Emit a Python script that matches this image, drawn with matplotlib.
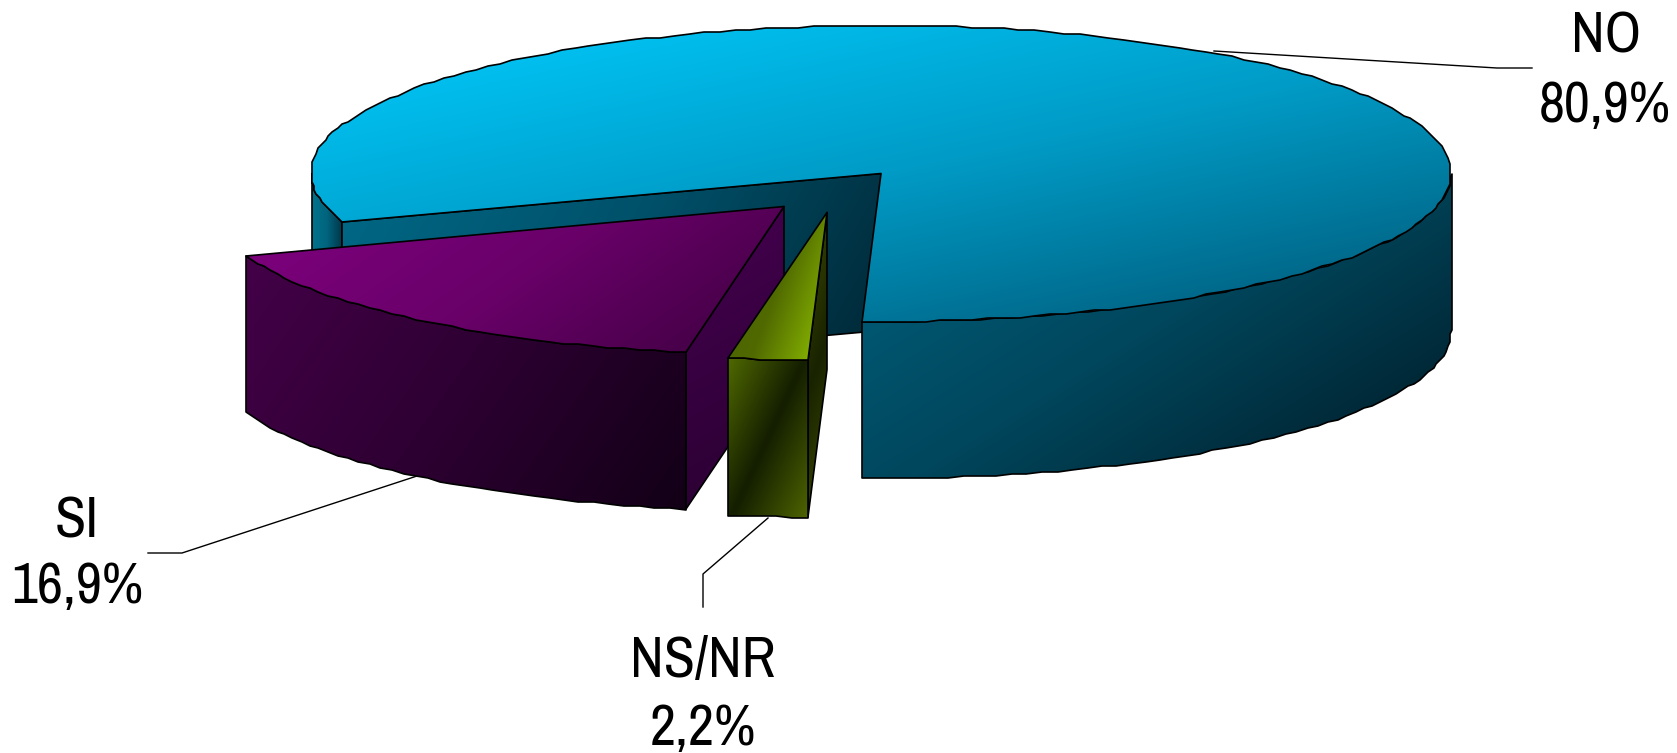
import numpy as np
import matplotlib
matplotlib.use("Agg")
import matplotlib.pyplot as plt
from matplotlib.patches import Polygon

categories = ["NS/NR", "SI", "NO"]
values = [2.2, 16.9, 80.9]

START = 92.0
CX, CY, A, B, DEPTH = 881.0, 173.5, 570.0, 148.0, 157.0
OFFSETS = {"NO": (0, 0), "SI": (-97, 33), "NS/NR": (-54, 39)}

plt.rcParams['font.family'] = ['Archivo Narrow', 'Barlow Condensed', 'Liberation Sans', 'DejaVu Sans']
fig = plt.figure(figsize=(16.77, 7.53), dpi=100)
ax = fig.add_axes([0, 0, 1, 1])
ax.set_xlim(0, 1677); ax.set_ylim(753, 0); ax.axis("off")

z = [10]
def rim(t0, t1, dx, dy, dz=0.0):
    ts = np.radians(np.arange(t0, t1, 1.6).tolist() + [t1])
    x = CX + dx + A * np.cos(ts)
    y = CY + dy + B * np.sin(ts) + dz
    y = np.round(y / 2.0) * 2.0
    x = np.round(x / 2.0) * 2.0
    return np.column_stack([x, y])

def face(points, stops, angle):
    points = np.asarray(points)
    z[0] += 1
    x0, y0 = points.min(0); x1, y1 = points.max(0)
    n = 300
    xx, yy = np.meshgrid(np.linspace(0, 1, n), np.linspace(0, 1, n))
    c, s = np.cos(np.radians(angle)), np.sin(np.radians(angle))
    w, h = max(x1 - x0, 1), max(y1 - y0, 1)
    d = xx * w * c + yy * h * s
    d = (d - d.min()) / (d.max() - d.min())
    pos = np.linspace(0, 1, len(stops))
    img = np.stack([np.interp(d, pos, [q[i] / 255 for q in stops]) for i in range(3)], -1)
    ax.add_patch(Polygon(points, closed=True, fc="none", ec="black", lw=1.2, joinstyle="round", zorder=z[0] + 0.5))
    im = ax.imshow(img, extent=(x0, x1, y1, y0), aspect="auto", zorder=z[0], interpolation="bilinear")
    im.set_clip_path(Polygon(points, closed=True, transform=ax.transData))
    ax.set_xlim(0, 1677); ax.set_ylim(753, 0)

def side(t0, t1, dx, dy):
    return np.vstack([rim(t0, t1, dx, dy), rim(t0, t1, dx, dy, DEPTH)[::-1]])

def wall(t, dx, dy):
    p = rim(t, t, dx, dy)[0]
    a = (CX + dx, CY + dy)
    return [a, tuple(p), (p[0], p[1] + DEPTH), (a[0], a[1] + DEPTH)]

def top_face(t0, t1, dx, dy):
    return np.vstack([[(CX + dx, CY + dy)], rim(t0, t1, dx, dy)])

# angles derived from the values
sweeps = np.array(values) * 3.6
edges = START + np.concatenate([[0], np.cumsum(sweeps)])
ns0, ns1 = edges[0], edges[1]
si0, si1 = edges[1], edges[2]
no0, no1 = edges[2], edges[3]

# leader lines
for xs, ys in [((1214, 1497, 1532), (51, 68, 68)),
               ((417, 182, 148), (476, 553, 553)),
               ((768, 703, 703), (518, 574, 607))]:
    ax.plot(xs, ys, color="black", lw=1.0, zorder=5)

# NO
d = OFFSETS["NO"]
face(side(no0, 180, *d), [(0, 115, 140), (0, 100, 125), (0, 55, 75)], 0)
face(wall(no0, *d), [(0, 105, 135), (0, 80, 105), (0, 38, 52)], 30)
face(side(360, 360 + START, *d), [(0, 100, 130), (0, 70, 92), (0, 25, 36)], 58)
face(top_face(no0, no1, *d), [(0, 205, 255), (0, 155, 198), (0, 85, 115)], 78)

# SI
d = OFFSETS["SI"]
face(wall(si0, *d), [(70, 0, 80), (40, 0, 48)], 60)
face(side(si0, si1, *d), [(68, 0, 72), (45, 0, 50), (18, 0, 22)], 35)
face(top_face(si0, si1, *d), [(128, 0, 128), (105, 0, 105), (60, 0, 62)], 55)

# NS/NR
d = OFFSETS["NS/NR"]
face(wall(ns0, *d), [(60, 75, 0), (25, 35, 0), (60, 75, 0)], 20)
face(side(ns0, ns1, *d), [(80, 105, 0), (20, 30, 0), (78, 100, 0)], 25)
face(top_face(ns0, ns1, *d), [(72, 95, 0), (80, 105, 0), (145, 195, 0)], 20)

# labels
positions = {"NO": (1606, 36, 1605, 106), "SI": (77, 522, 77, 587), "NS/NR": (703, 661, 703, 729)}
for cat, v in zip(categories, values):
    x0, y0, x1, y1 = positions[cat]
    ax.text(x0, y0, cat, ha="center", va="center", fontsize=41, color="black", zorder=50)
    ax.text(x1, y1, f"{v:.1f}".replace(".", ",") + "%", ha="center", va="center", fontsize=41, color="black", zorder=50)

fig.savefig("out.png", dpi=100, facecolor="white")
